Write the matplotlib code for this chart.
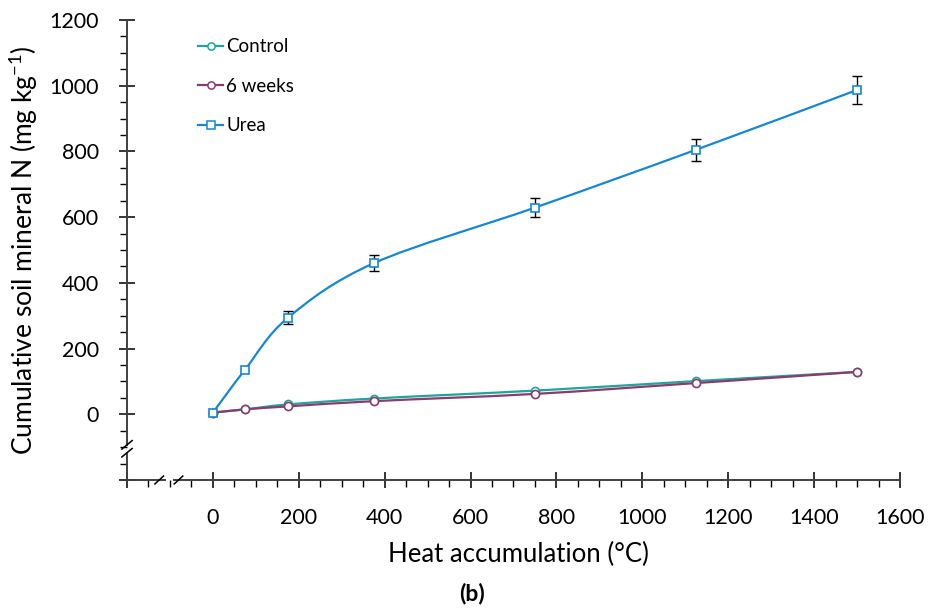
import matplotlib
matplotlib.use('Agg')
import matplotlib.pyplot as plt
from matplotlib.path import Path
from matplotlib.patches import PathPatch
from matplotlib.lines import Line2D
from matplotlib.ticker import MultipleLocator
import numpy as np

plt.rcParams['font.family'] = ['Lato', 'DejaVu Sans']
plt.rcParams['mathtext.fontset'] = 'custom'
plt.rcParams['mathtext.rm'] = 'Lato'
plt.rcParams['mathtext.it'] = 'Lato'

# heat accumulation (degree C)
heat = [0, 75, 175, 375, 750, 1125, 1500]

control = [5, 15, 30, 48, 72, 101, 129]
weeks6 = [5, 15, 24, 40, 62, 95, 129]
urea = [5, 136, 294, 460, 629, 805, 987]
urea_err = [0, 0, 20, 25, 28, 33, 42]

labels = ['Control', '6 weeks', 'Urea']
colors = ['#1fa59b', '#8b3b6c', '#1787d0']
markers = ['o', 'o', 's']


def smooth_path(x, y):
    # excel-like smoothed line: catmull-rom converted to cubic bezier
    pts = np.column_stack([x, y]).astype(float)
    n = len(pts)
    verts = [pts[0]]
    codes = [Path.MOVETO]
    for i in range(n - 1):
        p0 = pts[i - 1] if i > 0 else pts[i]
        p1 = pts[i]
        p2 = pts[i + 1]
        p3 = pts[i + 2] if i + 2 < n else pts[i + 1]
        c1 = p1 + (p2 - p0) / 6
        c2 = p2 - (p3 - p1) / 6
        verts += [c1, c2, p2]
        codes += [Path.CURVE4] * 3
    return Path(verts, codes)


fig = plt.figure(figsize=(9.31, 6.11), dpi=100)
ax = fig.add_axes([0.1364, 0.2144, 0.8303, 0.7529])

series = [control, weeks6, urea]
handles = []
for vals, lab, col, mk in zip(series, labels, colors, markers):
    ax.add_patch(PathPatch(smooth_path(heat, vals), facecolor='none',
                           edgecolor=col, lw=1.6, zorder=2))
    ax.plot(heat, vals, ls='none', marker=mk, ms=5.8, mfc='white',
            mec=col, mew=1.2, zorder=4)
    handles.append(Line2D([], [], color=col, lw=1.6, marker=mk, ms=5.2,
                          mfc='white', mec=col, mew=1.1))

ax.errorbar(heat[2:], urea[2:], yerr=urea_err[2:], fmt='none', ecolor='black',
            elinewidth=1.0, capsize=3.5, capthick=1.0, zorder=3)

ax.set_xlim(-200, 1600)
ax.set_ylim(-200, 1200)
ax.xaxis.set_minor_locator(MultipleLocator(50))
ax.yaxis.set_minor_locator(MultipleLocator(50))
ax.set_xticks(range(-200, 1601, 200))
ax.set_xticklabels([''] + [str(v) for v in range(0, 1601, 200)])
ax.set_yticks(range(-200, 1201, 200))
ax.set_yticklabels([''] + [str(v) for v in range(0, 1201, 200)])

axcol = '#404040'
ax.tick_params(which='major', direction='inout', length=12, width=1.1,
               color='black', labelsize=15.5, pad=14)
ax.tick_params(which='minor', direction='out', length=5, width=1.0, color='black')

for s in ax.spines.values():
    s.set_visible(False)

# axis lines with breaks
ax.plot([-200, -200], [1200, -92], color=axcol, lw=1.4, clip_on=False, zorder=5)
ax.plot([-200, -200], [-118, -200], color=axcol, lw=1.4, clip_on=False, zorder=5)
ax.plot([-200, -112], [-200, -200], color=axcol, lw=1.4, clip_on=False, zorder=5)
ax.plot([-90, 1600], [-200, -200], color=axcol, lw=1.4, clip_on=False, zorder=5)
for yb in [-93, -117]:
    ax.plot([-212, -188], [yb - 13, yb + 13], color='black', lw=1.1,
            clip_on=False, zorder=6)
for xb in [-125, -80]:
    ax.plot([xb - 10, xb + 10], [-212, -188], color='black', lw=1.1,
            clip_on=False, zorder=6)

ax.set_xlabel('Heat accumulation (°C)', fontsize=18.5)
ax.xaxis.set_label_coords(0.506, -0.135)
ax.set_ylabel('Cumulative soil mineral N (mg kg$^{-1}$)', fontsize=19)
ax.yaxis.set_label_coords(-0.113, 0.5)

fig.text(0.507, 0.028, '(b)', fontsize=16.5, fontweight='bold',
         ha='center', va='center')

ax.legend(handles, labels, loc='upper left', bbox_to_anchor=(0.07, 0.997),
          frameon=False, fontsize=13.5, handlelength=1.35, handletextpad=0.15,
          labelspacing=1.2)

fig.savefig('out.png', dpi=100)
